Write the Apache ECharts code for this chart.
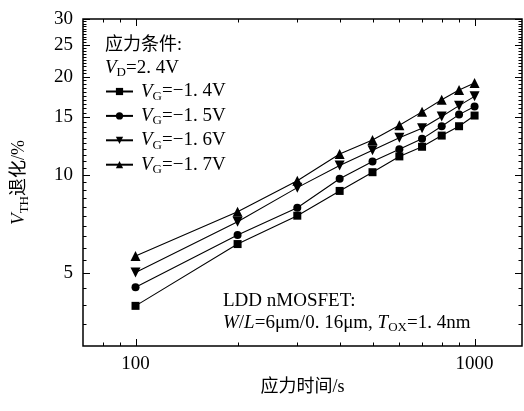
<!DOCTYPE html>
<html><head><meta charset="utf-8">
<script src="https://cdn.jsdelivr.net/npm/echarts@6/dist/echarts.min.js"></script>
<style>html,body{margin:0;padding:0;background:#fff}#c{width:524px;height:411px}</style>
</head><body><div id="c"></div>
<script>
// ---- data ----
const times = [100, 200, 300, 400, 500, 600, 700, 800, 900, 1000];
const vg14 = [3.98, 6.15, 7.51, 8.94, 10.2, 11.4, 12.2, 13.2, 14.1, 15.2];
const vg15 = [4.54, 6.55, 7.94, 9.74, 11.0, 12.0, 12.9, 14.1, 15.3, 16.2];
const vg16 = [5.03, 7.20, 9.15, 10.7, 11.9, 13.0, 13.9, 15.1, 16.3, 17.4];
const vg17 = [5.65, 7.72, 9.61, 11.6, 12.8, 14.2, 15.6, 17.0, 18.2, 19.1];
const seriesLabels = ['−1. 4V', '−1. 5V', '−1. 6V', '−1. 7V'];
const xMajorTicks = [100, 1000];
const xMinorTicks = [80, 90, 200, 300, 400, 500, 600, 700, 800, 900];
const yMajorTicks = [5, 10, 15, 20, 25, 30];
const xRange = [70, 1380];
const yRange = [3, 30];

// ---- style ----
const FONT = "'Liberation Serif','Noto Sans CJK SC',serif";
const FS = 19;
const rich = {
  i: {fontFamily: FONT, fontSize: FS, fontStyle: 'italic', color: '#000'},
  iL: {fontFamily: FONT, fontSize: FS, fontStyle: 'italic', color: '#000', padding: [0, 0, 0, 3]},
  n: {fontFamily: FONT, fontSize: FS, color: '#000'},
  c: {fontFamily: FONT, fontSize: 18, color: '#000'},
  s: {fontFamily: FONT, fontSize: 13, color: '#000', padding: [10, 0, 0, 0]}
};
const GL = 83, GT = 19, GW = 439, GH = 327;

const chart = echarts.init(document.getElementById('c'), null, {renderer: 'canvas'});
const allSeries = [vg14, vg15, vg16, vg17];
const symbols = ['rect', 'circle', 'triangle', 'triangle'];
const rotates = [0, 0, 180, 0];
const sizes = [8, 8, 10, 10];
const names = ['g14', 'g15', 'g16', 'g17'];

const axisCommon = {
  type: 'log', logBase: 10,
  axisLine: {show: false}, axisTick: {show: false},
  axisLabel: {show: false}, splitLine: {show: false}, minorTick: {show: false}
};

chart.setOption({
  animation: false,
  backgroundColor: '#fff',
  grid: {left: GL, top: GT, width: GW, height: GH, show: true,
         borderColor: '#000', borderWidth: 1.5, backgroundColor: 'transparent'},
  xAxis: Object.assign({}, axisCommon, {
    min: xRange[0], max: xRange[1],
    name: '应力时间/s', nameLocation: 'middle', nameGap: 32,
    nameTextStyle: {fontFamily: FONT, fontSize: 18, color: '#000'}
  }),
  yAxis: Object.assign({}, axisCommon, {
    min: yRange[0], max: yRange[1],
    name: '{i|V}{s|TH}{c|退化/%}', nameLocation: 'middle', nameGap: 52, nameRotate: 90,
    nameTextStyle: {rich: rich}
  }),
  legend: {
    orient: 'vertical', left: 105, top: 82, padding: 0,
    itemWidth: 27, itemHeight: 9, itemGap: 3.4,
    data: names,
    formatter: function (n) { return '{iL|V}{s|G}{n|=' + seriesLabels[names.indexOf(n)] + '}'; },
    textStyle: {fontFamily: FONT, fontSize: FS, color: '#000', rich: rich}
  },
  series: allSeries.map(function (vals, k) {
    return {
      name: names[k], type: 'line',
      data: times.map(function (t, j) { return [t, vals[j]]; }),
      symbol: symbols[k], symbolRotate: rotates[k], symbolSize: sizes[k],
      itemStyle: {color: '#000'}, lineStyle: {color: '#000', width: 1.1},
      emphasis: {disabled: true}
    };
  })
});

// ---- ticks, tick labels, annotations ----
const px = function (v) { return chart.convertToPixel({xAxisIndex: 0}, v); };
const py = function (v) { return chart.convertToPixel({yAxisIndex: 0}, v); };
const G = [];
function tick(x1, y1, x2, y2) {
  G.push({type: 'line', silent: true, shape: {x1: x1, y1: y1, x2: x2, y2: y2},
          style: {stroke: '#000', lineWidth: 1}});
}
const L = GL, R = GL + GW, T = GT, B = GT + GH;
xMajorTicks.forEach(function (v) {
  const x = Math.round(px(v)) + 0.5;
  tick(x, B, x, B - 7); tick(x, T, x, T + 7);
  G.push({type: 'text', silent: true, style: {text: String(v), x: px(v), y: B + 18,
          align: 'center', verticalAlign: 'middle', font: FS + 'px ' + FONT, fill: '#000'}});
});
xMinorTicks.forEach(function (v) {
  const x = Math.round(px(v)) + 0.5;
  tick(x, B, x, B - 3.5); tick(x, T, x, T + 3.5);
});
for (let v = yRange[0] + 0.5; v < yRange[1]; v += 0.5) {
  if (yMajorTicks.indexOf(v) >= 0) continue;
  const y = Math.round(py(v)) + 0.5;
  tick(L, y, L + 3.5, y); tick(R, y, R - 3.5, y);
}
yMajorTicks.forEach(function (v) {
  const y = Math.round(py(v)) + 0.5;
  tick(L, y, L + 7, y); tick(R, y, R - 7, y);
  G.push({type: 'text', silent: true, style: {text: String(v), x: L - 10, y: py(v),
          align: 'right', verticalAlign: 'middle', font: FS + 'px ' + FONT, fill: '#000'}});
});
G.push({type: 'text', silent: true, style: {text: '应力条件:', x: 105, y: 45,
        align: 'left', verticalAlign: 'middle', font: '18px ' + FONT, fill: '#000'}});
G.push({type: 'text', silent: true, style: {text: '{i|V}{s|D}{n|=2. 4V}', x: 105, y: 68,
        align: 'left', verticalAlign: 'middle', rich: rich}});
G.push({type: 'text', silent: true, style: {text: 'LDD nMOSFET:', x: 223, y: 301,
        align: 'left', verticalAlign: 'middle', font: FS + 'px ' + FONT, fill: '#000'}});
G.push({type: 'text', silent: true, style: {
        text: '{i|W}{n|/}{i|L}{n|=6μm/0. 16μm, }{i|T}{s|OX}{n|=1. 4nm}', x: 223, y: 323,
        align: 'left', verticalAlign: 'middle', rich: rich}});
chart.setOption({graphic: {elements: G}});
</script>
</body></html>
